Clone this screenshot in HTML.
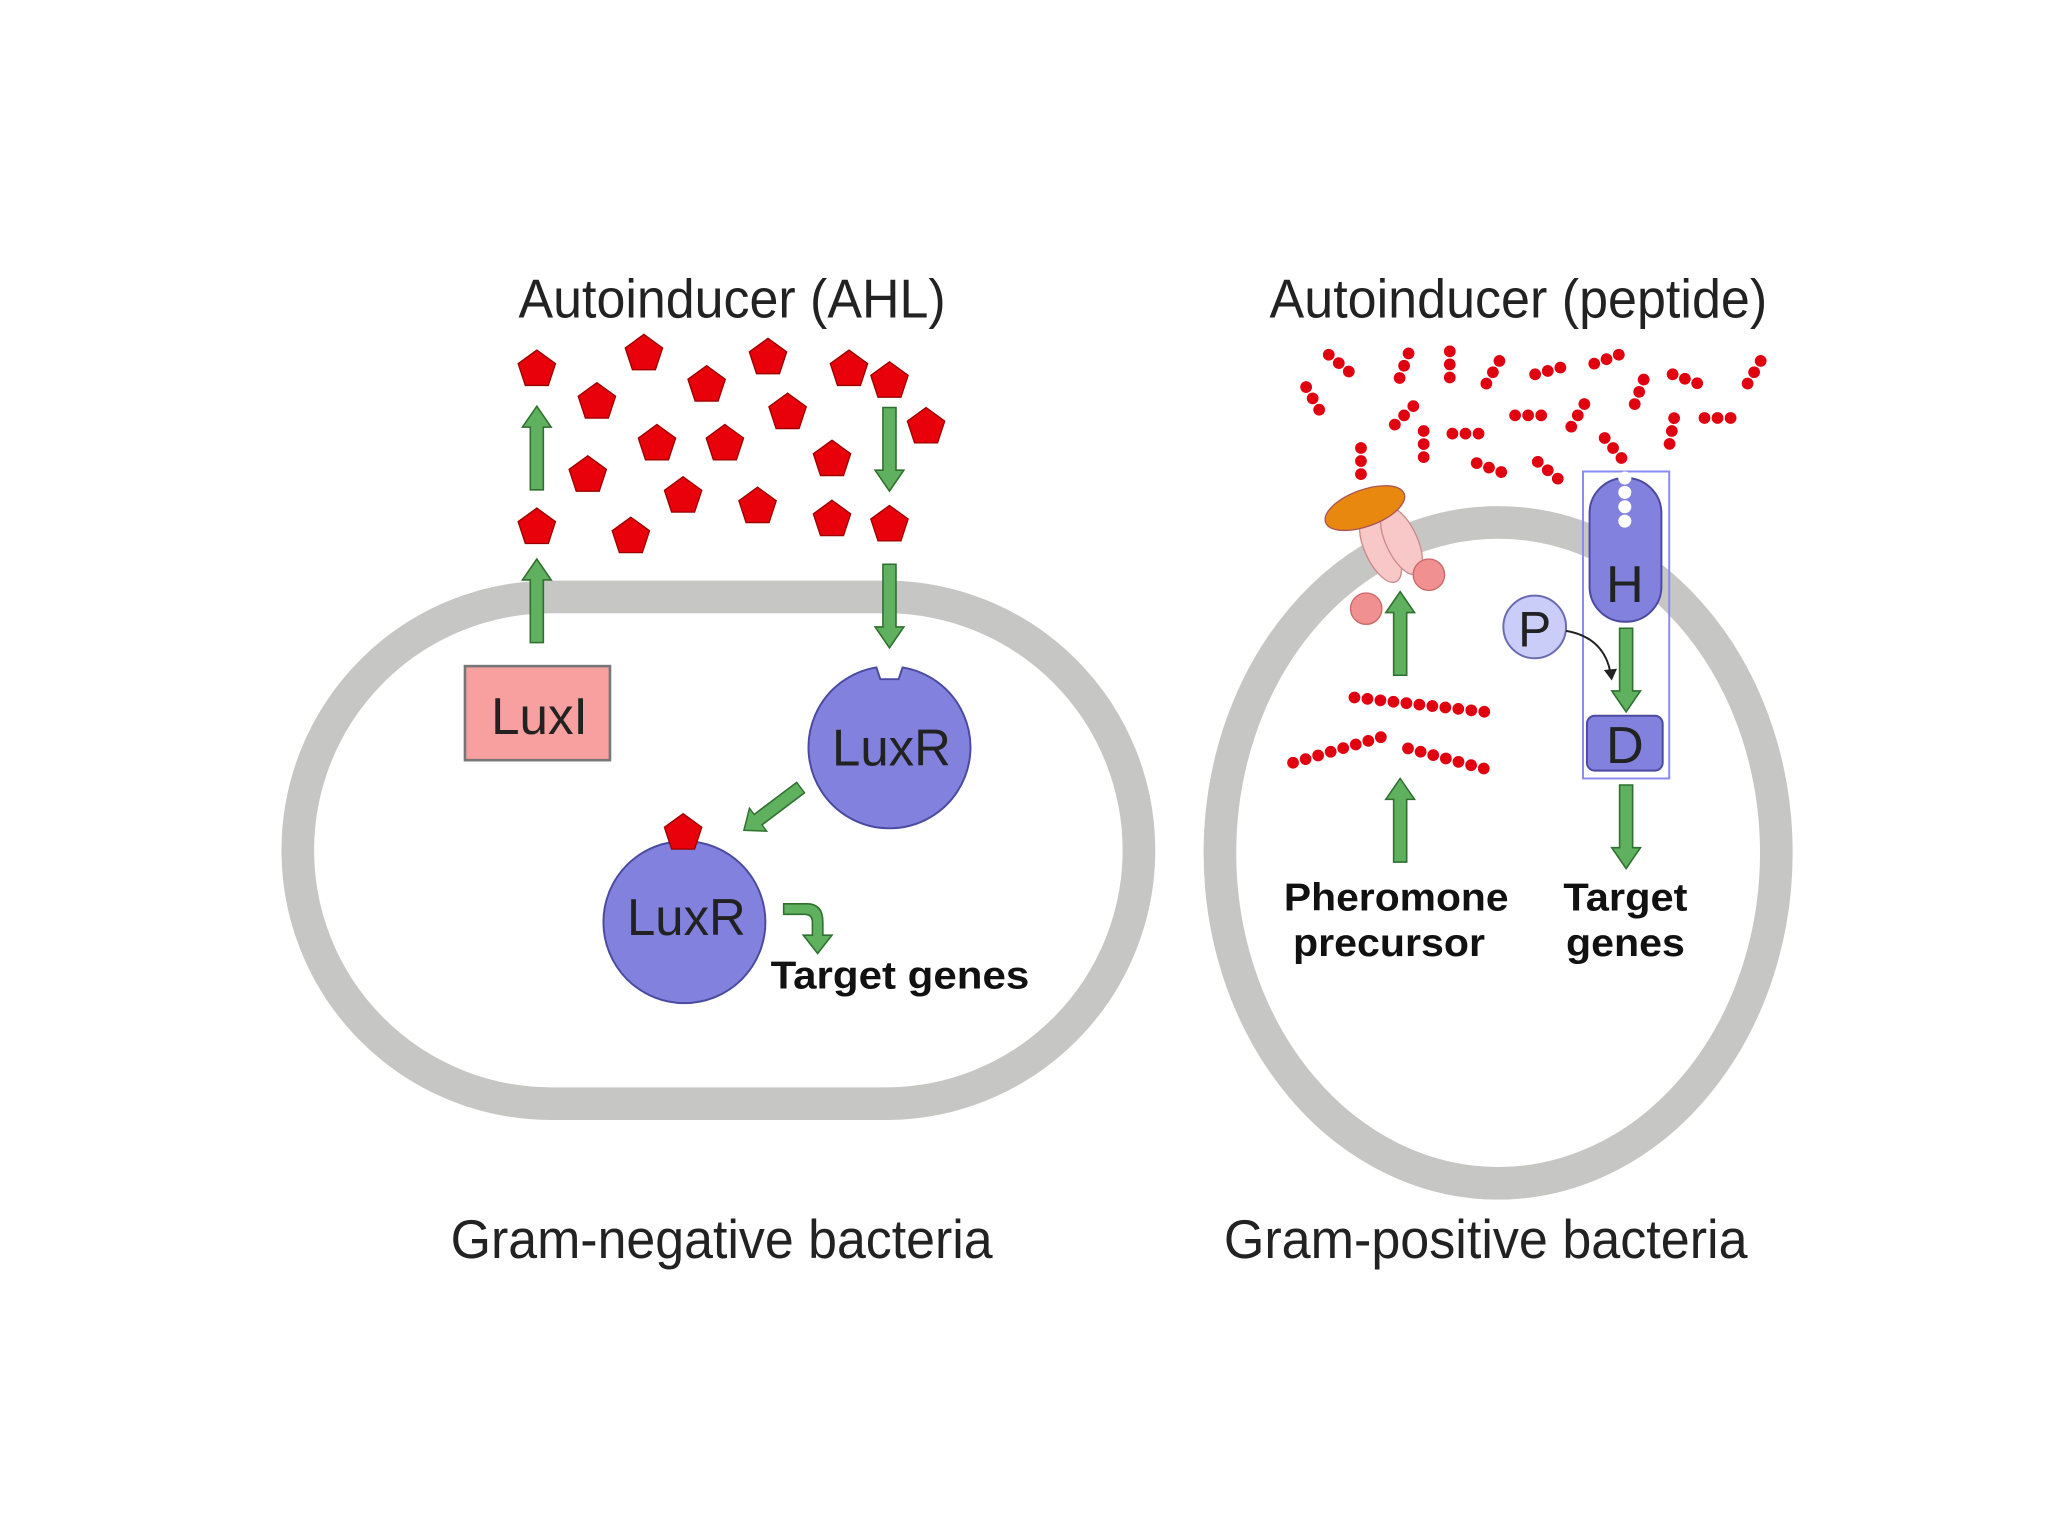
<!DOCTYPE html>
<html><head><meta charset="utf-8"><style>
html,body{margin:0;padding:0;background:#fff;}
svg{display:block;}
text{font-family:"Liberation Sans",sans-serif;}
</style></head><body>
<svg width="2048" height="1536" viewBox="0 0 1568 1176" xmlns="http://www.w3.org/2000/svg">
<defs>
<polygon id="pent" points="0,-15 14.3,-4.6 8.8,12.1 -8.8,12.1 -14.3,-4.6" fill="#e8000a" stroke="#900" stroke-width="1"/>
<path id="pep" d="M-10,0 L10.5,0" stroke="#e00010" stroke-width="9" stroke-linecap="round" stroke-dasharray="0 10" fill="none"/>
<g id="arr"><path d="M-5,0 L-5,-48 L-11,-48 L0,-64 L11,-48 L5,-48 L5,0 Z" fill="#5fb05f" stroke="#2f6f2f" stroke-width="1.2"/></g>
</defs>

<rect x="228" y="457" width="644" height="388" rx="194" fill="none" stroke="#c6c6c4" stroke-width="25"/>
<ellipse cx="1147" cy="653" rx="213" ry="253" fill="none" stroke="#c6c6c4" stroke-width="25"/>

<text x="397" y="243" font-size="42" textLength="327" lengthAdjust="spacingAndGlyphs" fill="#222">Autoinducer (AHL)</text>
<text x="972" y="243" font-size="42" textLength="381" lengthAdjust="spacingAndGlyphs" fill="#222">Autoinducer (peptide)</text>
<text x="345" y="963" font-size="42" textLength="415" lengthAdjust="spacingAndGlyphs" fill="#222">Gram-negative bacteria</text>
<text x="937" y="963" font-size="42" textLength="401" lengthAdjust="spacingAndGlyphs" fill="#222">Gram-positive bacteria</text>

<use href="#pent" x="411" y="283"/><use href="#pent" x="493" y="271"/><use href="#pent" x="588" y="274"/>
<use href="#pent" x="650" y="283"/><use href="#pent" x="681" y="292"/><use href="#pent" x="457" y="308"/>
<use href="#pent" x="541" y="295"/><use href="#pent" x="603" y="316"/><use href="#pent" x="709" y="327"/>
<use href="#pent" x="503" y="340"/><use href="#pent" x="555" y="340"/><use href="#pent" x="450" y="364"/>
<use href="#pent" x="637" y="352"/><use href="#pent" x="523" y="380"/><use href="#pent" x="580" y="388"/>
<use href="#pent" x="483" y="411"/><use href="#pent" x="637" y="398"/><use href="#pent" x="411" y="404"/>
<use href="#pent" x="681" y="402"/>

<use href="#arr" transform="translate(411,375)"/>
<use href="#arr" transform="translate(411,492)"/>
<use href="#arr" transform="translate(681,312) rotate(180)"/>
<use href="#arr" transform="translate(681,432) rotate(180)"/>
<use href="#arr" transform="translate(613,603) rotate(-127) scale(1,0.85)"/>

<rect x="356" y="510" width="111" height="72" fill="#f8a0a0" stroke="#777" stroke-width="2"/>
<text x="376" y="562" font-size="40" textLength="74" lengthAdjust="spacingAndGlyphs" fill="#222">LuxI</text>

<path d="M671,511 A62,62 0 1 0 691,511 L688,520 L674,520 Z" fill="#8282de" stroke="#4a4aa0" stroke-width="1.5"/>
<text x="637" y="586" font-size="40" textLength="91" lengthAdjust="spacingAndGlyphs" fill="#222">LuxR</text>
<circle cx="524" cy="706" r="62" fill="#8282de" stroke="#4a4aa0" stroke-width="1.5"/>
<use href="#pent" x="523" y="638"/>
<text x="480" y="716" font-size="40" textLength="91" lengthAdjust="spacingAndGlyphs" fill="#222">LuxR</text>
<path d="M600,692 L618,692 Q630,692 630,706 L630,716 L637,716 L626,730 L615,716 L622,716 L622,706 Q622,700 616,700 L600,700 Z" fill="#5fb05f" stroke="#2f6f2f" stroke-width="1.2"/>
<text x="590" y="757" font-size="30" font-weight="bold" textLength="198" lengthAdjust="spacingAndGlyphs" fill="#111">Target genes</text>

<g>
<use href="#pep" transform="translate(1025,278) rotate(40)"/>
<use href="#pep" transform="translate(1075,280) rotate(-70)"/>
<use href="#pep" transform="translate(1110,279) rotate(90)"/>
<use href="#pep" transform="translate(1143,285) rotate(-60)"/>
<use href="#pep" transform="translate(1185,284) rotate(-15)"/>
<use href="#pep" transform="translate(1230,275) rotate(-20)"/>
<use href="#pep" transform="translate(1290,290) rotate(20)"/>
<use href="#pep" transform="translate(1343,285) rotate(-60)"/>
<use href="#pep" transform="translate(1005,305) rotate(60)"/>
<use href="#pep" transform="translate(1075,318) rotate(-45)"/>
<use href="#pep" transform="translate(1122,332) rotate(0)"/>
<use href="#pep" transform="translate(1170,318) rotate(0)"/>
<use href="#pep" transform="translate(1208,318) rotate(-60)"/>
<use href="#pep" transform="translate(1255,300) rotate(-70)"/>
<use href="#pep" transform="translate(1280,330) rotate(-80)"/>
<use href="#pep" transform="translate(1315,320) rotate(0)"/>
<use href="#pep" transform="translate(1090,340) rotate(-90)"/>
<use href="#pep" transform="translate(1140,358) rotate(20)"/>
<use href="#pep" transform="translate(1185,360) rotate(40)"/>
<use href="#pep" transform="translate(1235,343) rotate(50)"/>
<use href="#pep" transform="translate(1042,353) rotate(90)"/>
</g>

<ellipse cx="1057" cy="420" rx="12" ry="28" transform="rotate(-25 1057 420)" fill="#f8c8c8" stroke="#c88" stroke-width="1"/>
<ellipse cx="1073" cy="414" rx="12" ry="28" transform="rotate(-25 1073 414)" fill="#f8c8c8" stroke="#c88" stroke-width="1"/>
<circle cx="1046" cy="466" r="12" fill="#f09090" stroke="#c66" stroke-width="1"/>
<circle cx="1094" cy="440" r="12" fill="#f09090" stroke="#c66" stroke-width="1"/>
<ellipse cx="1045" cy="389" rx="32" ry="14" transform="rotate(-20 1045 389)" fill="#e8880e" stroke="#a55" stroke-width="1"/>

<rect x="1212" y="361" width="66" height="235" fill="none" stroke="#8a8af0" stroke-width="1.5"/>
<rect x="1217" y="366" width="55" height="110" rx="27" fill="#8282de" stroke="#4a4aa0" stroke-width="1.5"/>
<path d="M1244,366 L1244,410" stroke="#fff" stroke-width="10" stroke-dasharray="0 11" stroke-linecap="round"/>
<text x="1244" y="461" font-size="40" text-anchor="middle" fill="#222">H</text>
<rect x="1215" y="548" width="58" height="42" rx="6" fill="#8282de" stroke="#4a4aa0" stroke-width="1.5"/>
<text x="1244" y="584" font-size="40" text-anchor="middle" fill="#222">D</text>
<circle cx="1175" cy="480" r="24" fill="#cacdf8" stroke="#6a6ab0" stroke-width="1.5"/>
<text x="1175" y="495" font-size="38" text-anchor="middle" fill="#222">P</text>
<path d="M1199,483 Q1228,488 1233,515" fill="none" stroke="#222" stroke-width="1.5"/>
<path d="M1228,513 L1234,521 L1238,512 Z" fill="#222"/>

<use href="#arr" transform="translate(1072,517)"/>
<use href="#arr" transform="translate(1072,660)"/>
<use href="#arr" transform="translate(1245,481) rotate(180)"/>
<use href="#arr" transform="translate(1245,601) rotate(180)"/>

<path d="M1037,534 L1137,545" stroke="#e00010" stroke-width="9" stroke-linecap="round" stroke-dasharray="0 10" fill="none"/>
<path d="M990,584 L1062,563" stroke="#e00010" stroke-width="9" stroke-linecap="round" stroke-dasharray="0 10" fill="none"/>
<path d="M1078,573 L1142,590" stroke="#e00010" stroke-width="9" stroke-linecap="round" stroke-dasharray="0 10" fill="none"/>

<text x="983" y="697" font-size="30" font-weight="bold" textLength="172" lengthAdjust="spacingAndGlyphs" fill="#111">Pheromone</text>
<text x="990" y="732" font-size="30" font-weight="bold" textLength="147" lengthAdjust="spacingAndGlyphs" fill="#111">precursor</text>
<text x="1197" y="697" font-size="30" font-weight="bold" textLength="95" lengthAdjust="spacingAndGlyphs" fill="#111">Target</text>
<text x="1199" y="732" font-size="30" font-weight="bold" textLength="91" lengthAdjust="spacingAndGlyphs" fill="#111">genes</text>
</svg>
</body></html>
